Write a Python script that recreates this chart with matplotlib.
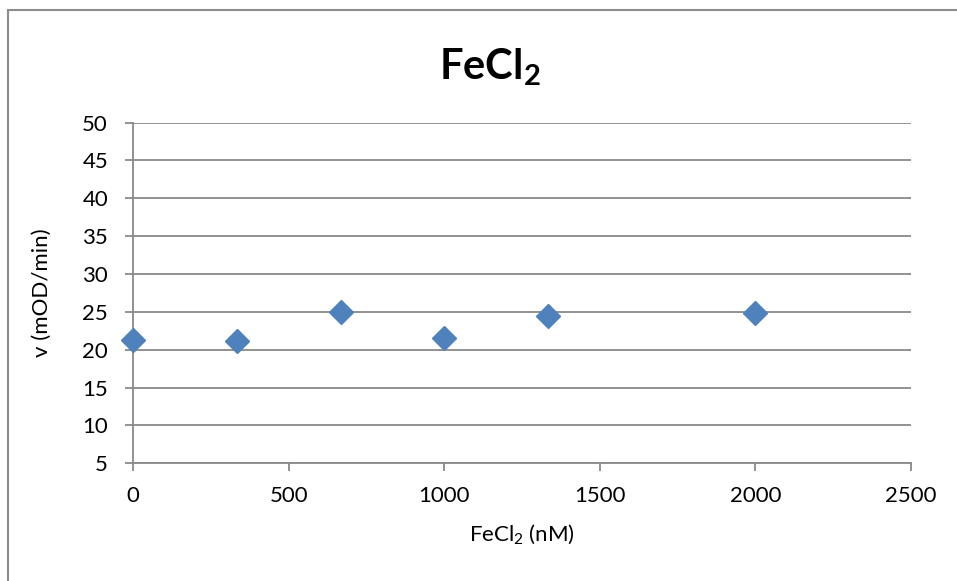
import matplotlib.pyplot as plt
from matplotlib.patches import Rectangle

plt.rcParams['font.family'] = ['Lato', 'DejaVu Sans']
plt.rcParams['mathtext.fontset'] = 'custom'
plt.rcParams['mathtext.rm'] = 'Lato'
plt.rcParams['mathtext.bf'] = 'Lato:bold'
plt.rcParams['mathtext.default'] = 'regular'

# FeCl2 concentration (nM) vs rate
conc = [0, 333, 667, 1000, 1333, 2000]
rate = [21.3, 21.2, 25.0, 21.6, 24.5, 24.9]
xticks = [0, 500, 1000, 1500, 2000, 2500]
yticks = [5, 10, 15, 20, 25, 30, 35, 40, 45, 50]

grey = '#898989'
fig = plt.figure(figsize=(9.57, 5.81), dpi=100)
ax = fig.add_axes([0.139, 0.2026, 0.813, 0.5864])

ax.plot(conc, rate, linestyle='none', marker='D', ms=12,
        color='#4f81bd', markeredgecolor='#4f81bd', zorder=3, clip_on=False)

ax.set_xlim(0, 2500)
ax.set_ylim(5, 50)
ax.set_xticks(xticks)
ax.set_yticks(yticks)
ax.yaxis.grid(True, color=grey, linewidth=1.3)
ax.set_axisbelow(True)
for s in ['top', 'right']:
    ax.spines[s].set_visible(False)
for s in ['left', 'bottom']:
    ax.spines[s].set_color(grey)
    ax.spines[s].set_linewidth(1.3)
ax.tick_params(direction='out', length=6, width=1.3, color=grey, labelsize=16)
ax.tick_params(axis='x', pad=10)
ax.tick_params(axis='y', pad=12)

ax.set_xlabel('FeCl$_2$ (nM)', fontsize=16, labelpad=12)
ax.set_ylabel('v (mOD/min)', fontsize=16, labelpad=22)

fig.text(0.512, 0.885, r'$\mathbf{FeCl_2}$', fontsize=30, ha='center', va='center')

# chart frame
fig.patches.append(Rectangle((8 / 957, -0.1), 1.2, 1.1 - 10 / 581,
                             transform=fig.transFigure, fill=False,
                             edgecolor='#8c8c8c', linewidth=1.5))

fig.savefig('out.png', dpi=100)
